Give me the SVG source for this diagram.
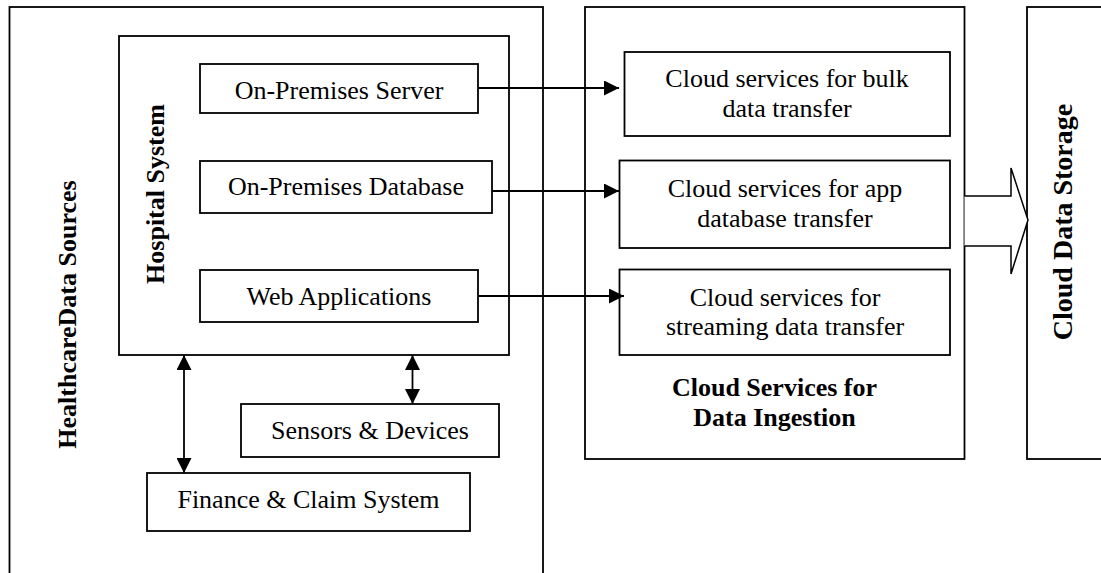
<svg xmlns="http://www.w3.org/2000/svg" width="1101" height="573" viewBox="0 0 1101 573">
<defs>
<style>
.box{fill:#fff;stroke:#000;stroke-width:1.8}
.frame{fill:none;stroke:#000;stroke-width:1.8}
.t{font-family:"Liberation Serif","Times New Roman",serif;font-size:26px;fill:#000;text-anchor:middle}
.b{font-family:"Liberation Serif","Times New Roman",serif;font-size:26px;font-weight:bold;fill:#000;text-anchor:middle}
.ln{fill:none;stroke:#000;stroke-width:1.8}
</style>
<marker id="ah" markerWidth="15" markerHeight="15" refX="15" refY="7.5" orient="auto-start-reverse" markerUnits="userSpaceOnUse">
<path d="M0,0 L15,7.5 L0,15 Z" fill="#000"/>
</marker>
</defs>
<rect width="1101" height="573" fill="#fff"/>

<g id="healthcare-data-sources">
<rect class="frame" x="9.5" y="7" width="533.5" height="600"/>
<text class="b" transform="translate(76,314.5) rotate(-90)">HealthcareData  Sources</text>
</g>

<g id="hospital-system">
<rect class="frame" x="119" y="36" width="390" height="319"/>
<text class="b" transform="translate(164,194) rotate(-90)">Hospital System</text>
</g>

<g id="on-premises-server">
<rect class="box" x="200" y="64" width="278" height="49"/>
<text class="t" x="339" y="99">On-Premises Server</text>
</g>

<g id="on-premises-database">
<rect class="box" x="200" y="161" width="292" height="52"/>
<text class="t" x="346" y="195">On-Premises Database</text>
</g>

<g id="web-applications">
<rect class="box" x="200" y="270" width="278" height="52"/>
<text class="t" x="339" y="305">Web Applications</text>
</g>

<g id="sensors-devices">
<rect class="box" x="241" y="404" width="258" height="53"/>
<text class="t" x="370" y="439">Sensors &amp; Devices</text>
</g>

<g id="finance-claim-system">
<rect class="box" x="147" y="473" width="323" height="58"/>
<text class="t" x="308.5" y="508">Finance &amp; Claim System</text>
</g>

<g id="cloud-ingestion">
<rect class="frame" x="585" y="7" width="379.5" height="452"/>
<text class="b" x="774.5" y="396">Cloud Services for</text>
<text class="b" x="774.5" y="426">Data Ingestion</text>
</g>

<g id="bulk-transfer">
<rect class="box" x="624.5" y="52" width="325.5" height="84"/>
<text class="t" x="787" y="87">Cloud services for bulk</text>
<text class="t" x="787" y="117">data transfer</text>
</g>

<g id="app-db-transfer">
<rect class="box" x="619.5" y="160.5" width="330.5" height="87.5"/>
<text class="t" x="785" y="197">Cloud services for app</text>
<text class="t" x="785" y="227">database transfer</text>
</g>

<g id="streaming-transfer">
<rect class="box" x="619.5" y="269.5" width="330.5" height="85.5"/>
<text class="t" x="785" y="306">Cloud services for</text>
<text class="t" x="785" y="335">streaming data transfer</text>
</g>

<g id="cloud-data-storage">
<rect class="frame" x="1027" y="7" width="100" height="452"/>
<text class="b" style="font-size:28px" transform="translate(1072,222) rotate(-90)">Cloud Data Storage</text>
</g>

<g id="connectors">
<line class="ln" x1="478" y1="88" x2="619" y2="88" marker-end="url(#ah)"/>
<line class="ln" x1="492" y1="191" x2="619" y2="191" marker-end="url(#ah)"/>
<line class="ln" x1="478" y1="296" x2="624" y2="296" marker-end="url(#ah)"/>
<line class="ln" x1="184" y1="355" x2="184" y2="473" marker-start="url(#ah)" marker-end="url(#ah)"/>
<line class="ln" x1="412.5" y1="355" x2="412.5" y2="404" marker-start="url(#ah)" marker-end="url(#ah)"/>
<path d="M964.5,196 L1011,196 L1011,168 L1028,220 L1011,274 L1011,246 L964.5,246" fill="#fff" stroke="#000" stroke-width="1.5"/>
</g>
</svg>
